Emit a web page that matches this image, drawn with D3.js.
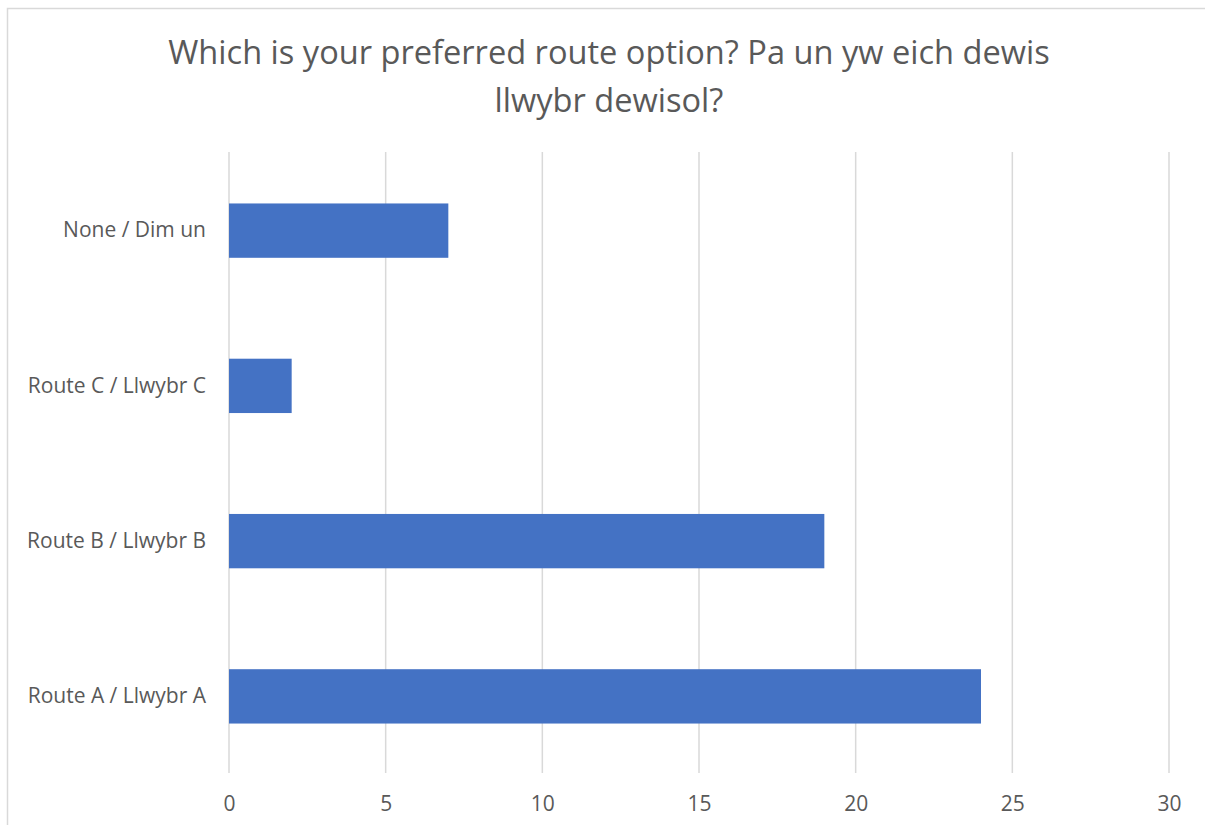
<!DOCTYPE html>
<html>
<head>
<meta charset="utf-8">
<script src="https://cdn.jsdelivr.net/npm/d3@7"></script>
<style>
  body { margin: 0; background: #fff; }
  text { font-family: "Open Sans", "Noto Sans", sans-serif; fill: #595959; }
</style>
</head>
<body>
<div id="chart"></div>
<script>
// data
const categories = ["None / Dim un", "Route C / Llwybr C", "Route B / Llwybr B", "Route A / Llwybr A"];
const values = [7, 2, 19, 24];
const xTicks = [0, 5, 10, 15, 20, 25, 30];
const titleLines = ["Which is your preferred route option? Pa un yw eich dewis", "llwybr dewisol?"];

let width = 1205;
let height = 825;

let svg = d3.select("#chart").append("svg")
  .attr("width", width)
  .attr("height", height);

// outer border
svg.append("rect")
  .attr("x", 7.5).attr("y", 8.5)
  .attr("width", 1220).attr("height", 840)
  .attr("fill", "#fff")
  .attr("stroke", "#d9d9d9")
  .attr("stroke-width", 1.5);

// title
svg.append("g").selectAll("text")
  .data(titleLines)
  .enter().append("text")
  .attr("x", 609)
  .attr("y", (d, i) => 64 + i * 48)
  .attr("text-anchor", "middle")
  .attr("font-size", 32.6)
  .text((d) => d);

let xScale = d3.scaleLinear().domain([0, 30]).range([229, 1169]);
let yScale = d3.scaleBand().domain(categories).range([153, 774])
  .paddingInner(0.65).paddingOuter(0.325);

// gridlines
svg.append("g").selectAll("line")
  .data(xTicks)
  .enter().append("line")
  .attr("x1", (d) => xScale(d)).attr("x2", (d) => xScale(d))
  .attr("y1", 152).attr("y2", 773)
  .attr("stroke", "#d9d9d9")
  .attr("stroke-width", 1.5);

// bars
svg.append("g").selectAll("rect")
  .data(values)
  .enter().append("rect")
  .attr("x", xScale(0))
  .attr("y", (d, i) => yScale(categories[i]))
  .attr("width", (d) => xScale(d) - xScale(0))
  .attr("height", yScale.bandwidth())
  .attr("fill", "#4472c4");

// x axis labels
let xAxis = d3.axisBottom(xScale).tickValues(xTicks).tickSize(0).tickPadding(23);
let gx = svg.append("g").attr("transform", "translate(0,773)").call(xAxis);
gx.select(".domain").remove();
gx.selectAll("text").attr("font-size", 21).attr("fill", "#595959")
  .style("font-family", '"Open Sans", "Noto Sans", sans-serif');

// y axis labels
let yAxis = d3.axisLeft(yScale).tickSize(0).tickPadding(23);
let gy = svg.append("g").attr("transform", "translate(229,0)").call(yAxis);
gy.select(".domain").remove();
gy.selectAll("text").attr("font-size", 21).attr("fill", "#595959")
  .style("font-family", '"Open Sans", "Noto Sans", sans-serif');
</script>
</body>
</html>
